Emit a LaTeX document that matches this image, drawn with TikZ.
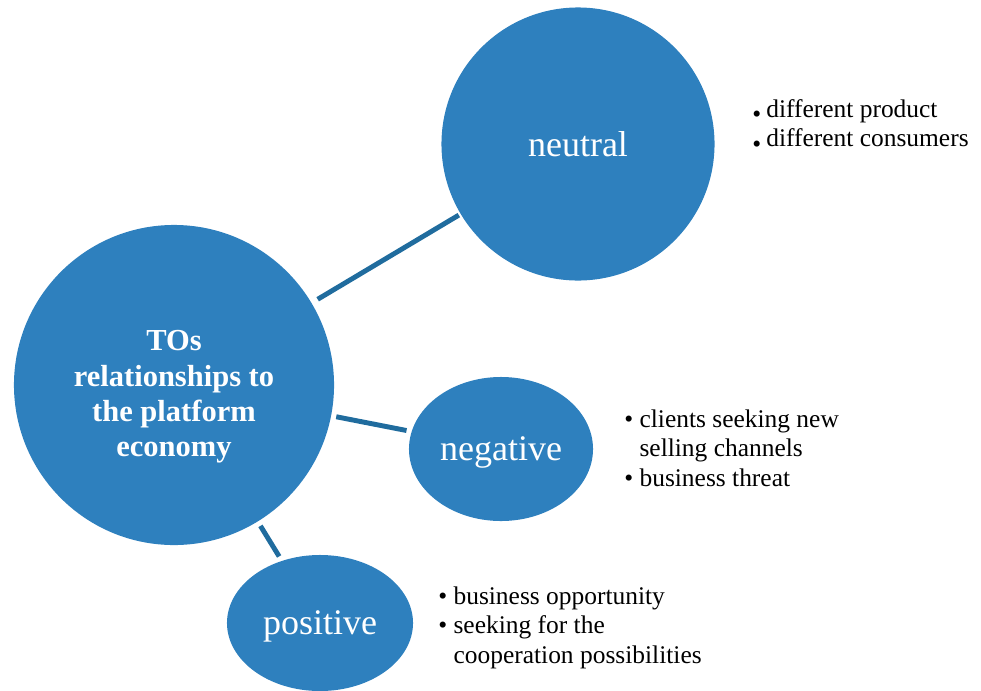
\documentclass[tikz,border=0pt]{standalone}
\usepackage{fontspec}
\setmainfont{Liberation Serif}
\usetikzlibrary{shapes.geometric}

\definecolor{bubble}{RGB}{46,128,190}
\definecolor{link}{RGB}{32,108,158}

\newcommand{\lowdot}{\raisebox{-0.22em}{\textbullet}}

\tikzset{
	bubble/.style={ellipse, fill=bubble, draw=none, inner sep=0pt, text=white, text depth=0pt, font=\fontsize{25.6}{30}\selectfont},
	link/.style={draw=link, line width=3.5pt},
	notes/.style={anchor=base west, inner sep=0pt, font=\fontsize{18.1}{21.3}\selectfont}
}

\begin{document}
\begin{tikzpicture}[x=0.025cm, y=-0.025cm]
	\useasboundingbox (0,0) rectangle (981,691);
	% bubbles
	\node[bubble, minimum width=8cm, minimum height=8cm] (tos) at (174,385) {};
	\node[text=white, align=center, inner sep=0pt, font=\bfseries\fontsize{21.7}{25.1}\selectfont]
		(tostext) at (174,397) {TOs\\relationships to\\the platform\\economy};
	\node[bubble, minimum width=6.825cm, minimum height=6.825cm] (neutral) at (578,144) {neutral};
	\node[bubble, minimum width=4.6cm, minimum height=3.6cm] (negative) at (501,449) {negative};
	\node[bubble, minimum width=4.65cm, minimum height=3.4cm] (positive) at (320,623) {positive};
	% links
	\draw[link, shorten <=0.175cm, shorten >=0.05cm] (tos) -- (neutral);
	\draw[link, shorten <=0.125cm, shorten >=0.125cm] (tos) -- (negative);
	\draw[link, shorten <=0.125cm, shorten >=0.125cm] (tos) -- (positive);
	% notes
	\node[notes] (neutralnotes) at (752,117)
		{\begin{tabular}[t]{@{}l@{\hspace{0.2em}}l@{}}
		\lowdot & different product\\
		\lowdot & different consumers
		\end{tabular}};
	\node[notes] (negativenotes) at (624,427)
		{\begin{tabular}[t]{@{}l@{\hspace{0.25em}}l@{}}
		\textbullet & clients seeking new\\
		 & selling channels\\
		\textbullet & business threat
		\end{tabular}};
	\node[notes] (positivenotes) at (438,604)
		{\begin{tabular}[t]{@{}l@{\hspace{0.25em}}l@{}}
		\textbullet & business opportunity\\
		\textbullet & seeking for the\\
		 & cooperation possibilities
		\end{tabular}};
\end{tikzpicture}
\end{document}
